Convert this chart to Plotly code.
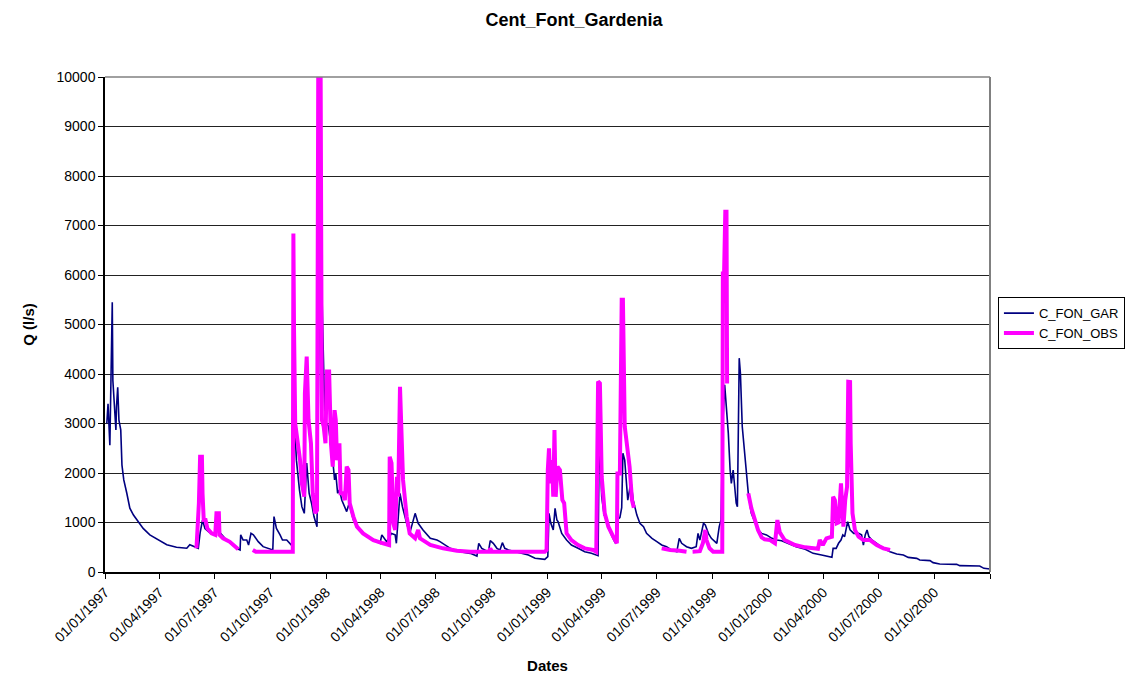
import pandas as pd
import plotly.graph_objects as go

START = "1997-01-01"

# C_FON_GAR (simulated) : day offset from 01/01/1997, discharge (l/s)
gar_day = [3, 5, 8, 12, 13, 15, 18, 19, 21, 23, 26, 28, 31, 36, 41, 47, 55, 63, 74, 88,
           102, 118, 135, 140, 149, 154, 157, 161, 165, 173, 182, 184, 190, 198, 206, 217,
           223, 224, 228, 234, 237, 241, 245, 253, 261, 270, 277, 279, 283, 289, 293, 300,
           305, 310, 312, 316, 321, 325, 329, 333, 337, 341, 345, 350, 353, 356, 359, 362,
           363, 369, 373, 376, 379, 381, 384, 387, 391, 395, 399, 403, 407, 410, 421, 437,
           454, 457, 465, 473, 479, 481, 487, 491, 498, 503, 512, 517, 525, 537, 548, 553,
           570, 586, 603, 614, 617, 622, 627, 633, 636, 641, 647, 652, 656, 660, 666, 677,
           688, 699, 710, 726, 731, 733, 736, 740, 743, 746, 748, 754, 762, 770, 781, 792,
           803, 811, 814, 816, 820, 824, 826, 829, 832, 836, 840, 843, 845, 850, 853, 855,
           858, 861, 863, 866, 868, 872, 878, 883, 889, 894, 903, 911, 919, 927, 935, 944,
           948, 952, 960, 968, 976, 979, 982, 988, 991, 996, 1001, 1010, 1014, 1017, 1020,
           1023, 1029, 1032, 1034, 1037, 1040, 1042, 1044, 1047, 1049, 1052, 1056, 1059,
           1062, 1067, 1073, 1078, 1084, 1092, 1101, 1109, 1117, 1128, 1141, 1156, 1169,
           1183, 1200, 1202, 1207, 1211, 1215, 1218, 1221, 1226, 1230, 1236, 1244, 1249,
           1252, 1255, 1258, 1261, 1266, 1274, 1285, 1296, 1307, 1318, 1326, 1340, 1345,
           1362, 1367, 1378, 1406, 1411, 1444, 1451, 1461]
gar_q = [3000, 3400, 2560, 5450, 3870, 3340, 2870, 3340, 3730, 3070, 2870, 2160, 1860, 1590,
         1290, 1150, 1020, 880, 750, 650, 550, 500, 480, 550, 500, 480, 790, 1050, 880, 790,
         750, 950, 790, 680, 600, 478, 445, 750, 645, 645, 545, 780, 750, 613, 512, 478, 445,
         1120, 880, 750, 645, 645, 580, 512, 3270, 2260, 1660, 1320, 1185, 2200, 1590, 1390,
         1120, 915, 4500, 7000, 5160, 3500, 3070, 2940, 2600, 2260, 1860, 1990, 1590, 1660,
         1450, 1320, 1220, 1390, 1185, 1050, 850, 680, 580, 750, 613, 780, 750, 580, 1590,
         1320, 983, 780, 1185, 983, 850, 680, 645, 613, 478, 410, 377, 323, 580, 478, 445,
         410, 633, 580, 478, 445, 593, 478, 445, 410, 377, 343, 276, 256, 310, 1185, 983, 850,
         1286, 1050, 1017, 780, 645, 545, 478, 410, 377, 343, 330, 2800, 1520, 1150, 1120,
         950, 850, 750, 645, 580, 1050, 1100, 1300, 2400, 2260, 1720, 1450, 1660, 1860, 1450,
         1150, 983, 915, 780, 680, 613, 545, 512, 445, 410, 680, 580, 512, 478, 512, 780, 645,
         983, 950, 780, 680, 580, 915, 1050, 3000, 3780, 2800, 2060, 1790, 2060, 1660, 1390,
         1320, 4320, 4010, 2940, 2400, 1925, 1590, 1185, 983, 850, 780, 750, 680, 646, 633,
         580, 512, 458, 377, 343, 296, 478, 478, 580, 646, 750, 714, 1017, 850, 780, 780, 750,
         545, 750, 850, 714, 646, 580, 478, 410, 364, 343, 296, 276, 242, 229, 189, 162, 155,
         128, 121, 74, 60]

# C_FON_OBS (observed) : None marks a gap in the record
obs_day = [151, 155, 157, 160, 161, 163, 166, 169, 176, 182, 184, 188, 189, 195, 206, 220,
           232, 244, 249, 310, 311, 312, 314, 319, 322, 325, 329, 330, 333, 336, 340, 343,
           347, 350, 352, 356, 358, 361, 364, 366, 370, 373, 376, 379, 381, 383, 387, 389,
           393, 396, 399, 402, 404, 410, 416, 426, 443, 459, 469, 470, 473, 476, 479, 482,
           484, 487, 490, 492, 498, 503, 512, 517, 520, 537, 558, 581, 603, 634, 636, 639,
           726, 729, 731, 733, 735, 738, 740, 742, 744, 747, 751, 755, 758, 762, 770, 781,
           792, 806, 811, 814, 817, 820, 825, 831, 839, 845, 846, 850, 853, 855, 858, 862,
           866, 870, 873, 896, 919, 933, 949, 960, 965, 970, 982, 987, 991, 993, 998, 1004,
           1019, 1020, 1022, 1024, 1026, 1027, 1045, 1062, 1067, 1073, 1078, 1084, 1089, 1098,
           1106, 1110, 1114, 1122, 1139, 1156, 1177, 1180, 1185, 1191, 1200, 1202, 1205, 1208,
           1211, 1215, 1219, 1222, 1225, 1227, 1230, 1231, 1234, 1238, 1244, 1252, 1263, 1274,
           1285, 1296]
obs_q = [480, 1387, 2330, 2330, 1590, 1050, 1050, 880, 780, 750, 1185, 1185, 750, 680, 610,
         458, None, 445, 410, 410, 6840, 4960, 3000, 2600, 2260, 1790, 1520, 3610, 4350, 3070,
         2600, 1590, 1185, 1250, 10000, 10000, 3070, 2940, 2600, 4050, 4050, 2600, 2130, 3270,
         3070, 2260, 2600, 1590, 1590, 1450, 2130, 2060, 1390, 1120, 915, 780, 645, 580, 545,
         2330, 2200, 983, 850, 1925, 1520, 3740, 2870, 1860, 1120, 780, 680, 850, 680, 545,
         478, 430, 410, 410, 478, 410, 410, 445, 2060, 2500, 1790, 2260, 1520, 2870, 1520,
         2130, 2060, 1455, 1390, 780, 645, 545, 478, 445, 410, 3850, 3810, 1925, 1185, 915,
         714, 580, 1990, 1990, 5500, 5500, 2940, 2600, 2130, 1450, 1300, None, 478, 445, 430,
         410, None, 410, 420, 580, 850, 645, 478, 410, 410, 6030, 6030, 7280, 7280, 3810,
         None, 1590, 1290, 1050, 850, 700, 660, 645, 580, 1050, 800, 646, 545, 498, 470, 646,
         545, 680, 714, 1520, 1450, 983, 1000, 1790, 915, 1455, 1720, 3845, 3840, 2600, 1185,
         850, 714, 645, 645, 545, 478, 445]

tick_dates = ["1997-01-01", "1997-04-01", "1997-07-01", "1997-10-01",
              "1998-01-01", "1998-04-01", "1998-07-01", "1998-10-01",
              "1999-01-01", "1999-04-01", "1999-07-01", "1999-10-01",
              "2000-01-01", "2000-04-01", "2000-07-01", "2000-10-01", "2001-01-01"]
tick_text = ["01/01/1997", "01/04/1997", "01/07/1997", "01/10/1997",
             "01/01/1998", "01/04/1998", "01/07/1998", "01/10/1998",
             "01/01/1999", "01/04/1999", "01/07/1999", "01/10/1999",
             "01/01/2000", "01/04/2000", "01/07/2000", "01/10/2000", ""]
y_ticks = [0, 1000, 2000, 3000, 4000, 5000, 6000, 7000, 8000, 9000, 10000]

start = pd.Timestamp(START)
gar_x = [start + pd.Timedelta(days=d) for d in gar_day]
obs_x = [start + pd.Timedelta(days=d) for d in obs_day]

FONT = "Arial, Liberation Sans, sans-serif"

fig = go.Figure()
fig.add_trace(go.Scatter(x=gar_x, y=gar_q, mode="lines", name="C_FON_GAR",
                         line=dict(color="#000080", width=1.6)))
fig.add_trace(go.Scatter(x=obs_x, y=obs_q, mode="lines", name="C_FON_OBS",
                         line=dict(color="#FF00FF", width=4), connectgaps=False))

fig.update_layout(
    width=1132, height=671,
    margin=dict(l=97, r=150, t=69, b=107, autoexpand=False),
    paper_bgcolor="white", plot_bgcolor="white",
    font=dict(family=FONT, size=14, color="black"),
    title=dict(text="<b>Cent_Font_Gardenia</b>", x=0.5, xanchor="center",
               y=0.992, yanchor="top", font=dict(size=18, family=FONT)),
    showlegend=True,
    legend=dict(xref="container", yref="container", x=0.8745, y=0.569,
                xanchor="left", yanchor="top",
                bordercolor="black", borderwidth=1, bgcolor="white",
                font=dict(size=13, family=FONT), tracegroupgap=0, itemwidth=30),
    xaxis=dict(type="date", range=[tick_dates[0], tick_dates[-1]],
               tickvals=tick_dates, ticktext=tick_text, tickangle=-45,
               ticks="outside", ticklen=5, tickcolor="black",
               showline=True, linecolor="black", linewidth=1.5,
               showgrid=False, zeroline=False, automargin=False,
               title=dict(text="<b>Dates</b>", font=dict(size=15, family=FONT), standoff=16),
               tickfont=dict(size=14, family=FONT)),
    yaxis=dict(range=[0, 10000], tickvals=y_ticks, tickformat="d",
               ticks="outside", ticklen=5, tickcolor="black",
               showline=True, linecolor="black", linewidth=1.5,
               showgrid=True, gridcolor="#222222", gridwidth=1, zeroline=False,
               automargin=False,
               title=dict(text="<b>Q (l/s)</b>", font=dict(size=15, family=FONT), standoff=18),
               tickfont=dict(size=14, family=FONT)),
)

# grey plot-area frame (top and right)
fig.add_shape(type="line", xref="paper", yref="paper", x0=0, x1=1, y0=1, y1=1,
              line=dict(color="#808080", width=1.5))
fig.add_shape(type="line", xref="paper", yref="paper", x0=1, x1=1, y0=0, y1=1,
              line=dict(color="#808080", width=2))

fig.write_html("out.html")
